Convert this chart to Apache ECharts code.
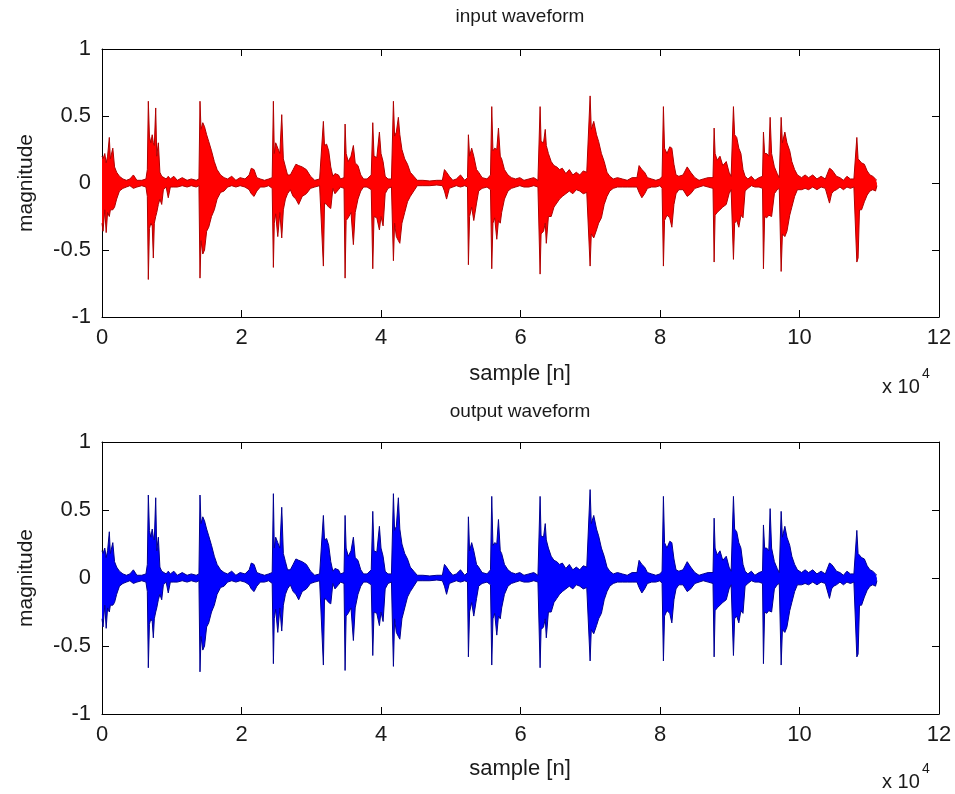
<!DOCTYPE html>
<html><head><meta charset="utf-8">
<script src="https://cdn.jsdelivr.net/npm/echarts@6/dist/echarts.min.js"></script>
<style>html,body{margin:0;padding:0;background:#fff}#c{width:955px;height:794px}</style>
</head><body><div id="c"></div>
<script>
// sample positions (samples) of the envelope
const sampleX = [
0,150,400,600,800,1050,1200,1550,1800,2100,
2500,3000,3500,4000,4500,5000,5700,6300,6500,6640,
6800,7000,7200,7360,7500,7700,7850,8080,8300,8560,
8800,9200,9500,9800,10300,10800,11500,12200,12800,13500,
13900,14050,14200,14450,14700,15000,15300,15700,16100,16500,
17000,17500,18000,18600,19200,19800,20500,21100,21400,21800,
22200,22700,23300,23900,24400,24570,24700,24900,25200,25500,
25770,26000,26300,26600,27000,27400,27800,28200,28700,29300,
29900,30500,31200,31740,31900,32200,32500,32800,33100,33400,
33900,34200,34700,34850,35000,35300,35700,36040,36300,36700,
37100,37500,38000,38600,38820,39000,39400,39770,40000,40300,
40600,41000,41500,41780,41950,42200,42490,42700,43000,43400,
43800,44200,44700,45200,46000,47000,48000,48800,49100,49400,
49800,50300,50800,51400,52000,52400,52530,52700,53000,53300,
53700,54000,54500,55200,55700,55880,56050,56300,56600,56840,
57100,57300,57700,58200,58700,59300,59900,60500,61200,61900,
62500,62810,62950,63300,63550,63700,64000,64400,64800,65200,
65600,66000,66500,67000,67500,68000,68500,69000,69500,69980,
70150,70500,70900,71200,71600,72000,72400,72800,73300,73900,
74600,75300,76000,76700,77000,77400,77800,78200,78800,79400,
80000,80300,80490,80650,81000,81400,81700,82000,82300,82700,
83300,83900,84400,85000,85600,86200,86900,87600,87760,87900,
88200,88600,89000,89500,89900,90200,90530,90700,91000,91300,
91600,91900,92200,92600,93100,93600,94200,94700,94830,95000,
95300,95600,95790,96000,96400,96800,97100,97370,97550,97900,
98200,98600,98900,99300,99700,100300,100800,101300,101900,102500,
103100,103700,104300,104600,104900,105300,105800,106300,106800,107300,
107800,108220,108400,108600,108900,109300,109700,110100,110500,110900,
111100];

// input waveform: upper and lower envelope
const inHi = [
0.20,0.18,0.22,0.15,0.20,0.34,0.18,0.26,0.12,0.08,
0.05,0.03,0.02,0.03,0.06,0.02,0.02,0.03,0.10,0.61,
0.35,0.30,0.36,0.30,0.28,0.56,0.20,0.30,0.08,0.05,
0.04,0.03,0.05,0.03,0.05,0.02,0.04,0.02,0.03,0.02,
0.03,0.61,0.40,0.45,0.42,0.36,0.31,0.24,0.16,0.10,
0.06,0.04,0.03,0.05,0.02,0.04,0.03,0.06,0.11,0.10,
0.04,0.03,0.02,0.03,0.04,0.61,0.22,0.30,0.26,0.22,
0.51,0.18,0.12,0.06,0.06,0.10,0.14,0.13,0.12,0.10,
0.05,0.02,0.03,0.46,0.28,0.29,0.24,0.12,0.05,0.07,
0.06,0.03,0.04,0.44,0.22,0.16,0.20,0.28,0.15,0.13,
0.06,0.03,0.03,0.06,0.45,0.20,0.19,0.38,0.22,0.16,
0.05,0.03,0.03,0.61,0.35,0.38,0.49,0.36,0.25,0.18,
0.14,0.08,0.05,0.02,0.02,0.015,0.02,0.02,0.10,0.08,
0.05,0.02,0.03,0.06,0.02,0.04,0.36,0.20,0.26,0.20,
0.10,0.08,0.04,0.03,0.06,0.57,0.24,0.26,0.25,0.41,
0.20,0.18,0.10,0.06,0.04,0.03,0.04,0.02,0.03,0.04,
0.02,0.57,0.31,0.30,0.40,0.28,0.22,0.16,0.13,0.12,
0.10,0.11,0.07,0.10,0.06,0.08,0.06,0.09,0.08,0.65,
0.40,0.46,0.36,0.31,0.22,0.16,0.08,0.05,0.03,0.04,
0.03,0.02,0.04,0.04,0.13,0.10,0.08,0.04,0.03,0.02,
0.03,0.05,0.57,0.26,0.22,0.27,0.26,0.14,0.06,0.05,
0.06,0.12,0.08,0.04,0.02,0.03,0.04,0.04,0.41,0.22,
0.17,0.20,0.13,0.16,0.08,0.05,0.57,0.36,0.34,0.26,
0.22,0.10,0.05,0.03,0.05,0.02,0.04,0.05,0.38,0.22,
0.22,0.20,0.49,0.22,0.12,0.07,0.04,0.49,0.30,0.38,
0.30,0.24,0.16,0.10,0.06,0.04,0.06,0.04,0.06,0.03,
0.05,0.03,0.11,0.10,0.08,0.05,0.04,0.02,0.05,0.03,
0.03,0.34,0.18,0.19,0.15,0.14,0.09,0.06,0.05,0.03,
0.02];
const inLo = [
-0.30,-0.36,-0.20,-0.37,-0.22,-0.25,-0.20,-0.20,-0.18,-0.12,
-0.06,-0.04,-0.03,-0.02,-0.04,-0.03,-0.02,-0.03,-0.10,-0.72,
-0.34,-0.30,-0.32,-0.56,-0.30,-0.25,-0.22,-0.16,-0.12,-0.16,
-0.05,-0.03,-0.11,-0.03,-0.03,-0.03,-0.02,-0.03,-0.02,-0.03,
-0.02,-0.71,-0.43,-0.53,-0.50,-0.36,-0.33,-0.25,-0.20,-0.12,
-0.07,-0.06,-0.03,-0.02,-0.03,-0.02,-0.03,-0.05,-0.08,-0.10,
-0.06,-0.03,-0.03,-0.02,-0.04,-0.63,-0.30,-0.23,-0.40,-0.22,
-0.41,-0.20,-0.12,-0.08,-0.05,-0.10,-0.12,-0.16,-0.10,-0.08,
-0.04,-0.03,-0.02,-0.62,-0.15,-0.16,-0.18,-0.19,-0.04,-0.08,
-0.05,-0.03,-0.04,-0.71,-0.28,-0.26,-0.22,-0.46,-0.22,-0.12,
-0.06,-0.03,-0.03,-0.05,-0.64,-0.25,-0.26,-0.35,-0.25,-0.32,
-0.08,-0.04,-0.03,-0.58,-0.30,-0.40,-0.43,-0.45,-0.30,-0.22,
-0.14,-0.10,-0.06,-0.02,-0.02,-0.02,-0.015,-0.02,-0.06,-0.12,
-0.04,-0.03,-0.02,-0.03,-0.02,-0.03,-0.61,-0.25,-0.18,-0.28,
-0.15,-0.06,-0.04,-0.03,-0.05,-0.64,-0.30,-0.26,-0.42,-0.28,
-0.30,-0.22,-0.12,-0.06,-0.04,-0.03,-0.02,-0.03,-0.03,-0.02,
-0.03,-0.68,-0.38,-0.36,-0.30,-0.45,-0.25,-0.25,-0.18,-0.15,
-0.12,-0.10,-0.08,-0.06,-0.08,-0.05,-0.06,-0.08,-0.07,-0.62,
-0.38,-0.41,-0.35,-0.30,-0.26,-0.16,-0.10,-0.06,-0.04,-0.03,
-0.03,-0.03,-0.03,-0.03,-0.07,-0.11,-0.08,-0.04,-0.03,-0.03,
-0.02,-0.04,-0.62,-0.28,-0.24,-0.26,-0.33,-0.16,-0.08,-0.05,
-0.05,-0.10,-0.08,-0.04,-0.03,-0.02,-0.03,-0.04,-0.59,-0.24,
-0.22,-0.20,-0.18,-0.16,-0.08,-0.05,-0.57,-0.30,-0.28,-0.33,
-0.24,-0.26,-0.06,-0.04,-0.02,-0.03,-0.03,-0.04,-0.64,-0.25,
-0.26,-0.24,-0.25,-0.25,-0.08,-0.05,-0.04,-0.66,-0.38,-0.40,
-0.36,-0.24,-0.18,-0.10,-0.05,-0.05,-0.04,-0.05,-0.03,-0.05,
-0.03,-0.04,-0.15,-0.08,-0.06,-0.05,-0.03,-0.05,-0.03,-0.04,
-0.03,-0.59,-0.56,-0.20,-0.20,-0.14,-0.09,-0.06,-0.05,-0.06,
-0.02];

// output waveform: upper and lower envelope
const outHi = [
0.20,0.18,0.22,0.15,0.20,0.34,0.18,0.26,0.12,0.08,
0.05,0.03,0.02,0.03,0.06,0.02,0.02,0.03,0.10,0.61,
0.35,0.30,0.36,0.30,0.28,0.59,0.20,0.30,0.08,0.05,
0.04,0.03,0.05,0.03,0.05,0.02,0.04,0.02,0.03,0.02,
0.03,0.61,0.40,0.45,0.42,0.36,0.31,0.24,0.16,0.10,
0.06,0.04,0.03,0.05,0.02,0.04,0.03,0.06,0.11,0.10,
0.04,0.03,0.02,0.03,0.04,0.62,0.22,0.30,0.26,0.22,
0.52,0.18,0.12,0.06,0.06,0.10,0.14,0.13,0.12,0.10,
0.05,0.02,0.03,0.46,0.28,0.29,0.24,0.12,0.05,0.07,
0.06,0.03,0.04,0.46,0.22,0.16,0.20,0.30,0.15,0.13,
0.06,0.03,0.03,0.06,0.49,0.20,0.19,0.38,0.22,0.16,
0.05,0.03,0.03,0.62,0.35,0.38,0.59,0.36,0.25,0.18,
0.14,0.08,0.05,0.02,0.02,0.015,0.02,0.02,0.10,0.08,
0.05,0.02,0.03,0.06,0.02,0.04,0.45,0.20,0.26,0.20,
0.10,0.08,0.04,0.03,0.06,0.60,0.24,0.26,0.25,0.43,
0.20,0.18,0.10,0.06,0.04,0.03,0.04,0.02,0.03,0.04,
0.02,0.60,0.31,0.30,0.40,0.28,0.22,0.16,0.13,0.12,
0.10,0.11,0.07,0.10,0.06,0.08,0.06,0.09,0.08,0.65,
0.40,0.46,0.36,0.31,0.22,0.16,0.08,0.05,0.03,0.04,
0.03,0.02,0.04,0.04,0.13,0.10,0.08,0.04,0.03,0.02,
0.03,0.05,0.60,0.26,0.22,0.27,0.26,0.14,0.06,0.05,
0.06,0.12,0.08,0.04,0.02,0.03,0.04,0.04,0.44,0.22,
0.17,0.20,0.13,0.16,0.08,0.05,0.60,0.36,0.34,0.26,
0.22,0.10,0.05,0.03,0.05,0.02,0.04,0.05,0.39,0.22,
0.22,0.20,0.51,0.22,0.12,0.07,0.04,0.49,0.30,0.38,
0.30,0.24,0.16,0.10,0.06,0.04,0.06,0.04,0.06,0.03,
0.05,0.03,0.11,0.10,0.08,0.05,0.04,0.02,0.05,0.03,
0.03,0.35,0.18,0.19,0.15,0.14,0.09,0.06,0.05,0.03,
0.02];
const outLo = [
-0.30,-0.36,-0.20,-0.37,-0.22,-0.25,-0.20,-0.20,-0.18,-0.12,
-0.06,-0.04,-0.03,-0.02,-0.04,-0.03,-0.02,-0.03,-0.10,-0.66,
-0.34,-0.30,-0.32,-0.44,-0.30,-0.25,-0.22,-0.16,-0.12,-0.16,
-0.05,-0.03,-0.11,-0.03,-0.03,-0.03,-0.02,-0.03,-0.02,-0.03,
-0.02,-0.69,-0.43,-0.53,-0.50,-0.36,-0.33,-0.25,-0.20,-0.12,
-0.07,-0.06,-0.03,-0.02,-0.03,-0.02,-0.03,-0.05,-0.08,-0.10,
-0.06,-0.03,-0.03,-0.02,-0.04,-0.63,-0.30,-0.23,-0.40,-0.22,
-0.39,-0.20,-0.12,-0.08,-0.05,-0.10,-0.12,-0.16,-0.10,-0.08,
-0.04,-0.03,-0.02,-0.64,-0.15,-0.16,-0.18,-0.19,-0.04,-0.08,
-0.05,-0.03,-0.04,-0.68,-0.28,-0.26,-0.22,-0.46,-0.22,-0.12,
-0.06,-0.03,-0.03,-0.05,-0.57,-0.25,-0.26,-0.35,-0.25,-0.32,
-0.08,-0.04,-0.03,-0.65,-0.30,-0.40,-0.43,-0.45,-0.30,-0.22,
-0.14,-0.10,-0.06,-0.02,-0.02,-0.02,-0.015,-0.02,-0.06,-0.12,
-0.04,-0.03,-0.02,-0.03,-0.02,-0.03,-0.58,-0.25,-0.18,-0.28,
-0.15,-0.06,-0.04,-0.03,-0.05,-0.64,-0.30,-0.26,-0.42,-0.28,
-0.30,-0.22,-0.12,-0.06,-0.04,-0.03,-0.02,-0.03,-0.03,-0.02,
-0.03,-0.66,-0.38,-0.36,-0.30,-0.44,-0.25,-0.25,-0.18,-0.15,
-0.12,-0.10,-0.08,-0.06,-0.08,-0.05,-0.06,-0.08,-0.07,-0.61,
-0.38,-0.41,-0.35,-0.30,-0.26,-0.16,-0.10,-0.06,-0.04,-0.03,
-0.03,-0.03,-0.03,-0.03,-0.07,-0.11,-0.08,-0.04,-0.03,-0.03,
-0.02,-0.04,-0.61,-0.28,-0.24,-0.26,-0.33,-0.16,-0.08,-0.05,
-0.05,-0.10,-0.08,-0.04,-0.03,-0.02,-0.03,-0.04,-0.58,-0.24,
-0.22,-0.20,-0.18,-0.16,-0.08,-0.05,-0.57,-0.30,-0.28,-0.33,
-0.24,-0.26,-0.06,-0.04,-0.02,-0.03,-0.03,-0.04,-0.63,-0.25,
-0.26,-0.24,-0.25,-0.25,-0.08,-0.05,-0.04,-0.64,-0.38,-0.40,
-0.36,-0.24,-0.18,-0.10,-0.05,-0.05,-0.04,-0.05,-0.03,-0.05,
-0.03,-0.04,-0.15,-0.08,-0.06,-0.05,-0.03,-0.05,-0.03,-0.04,
-0.03,-0.58,-0.56,-0.20,-0.20,-0.14,-0.09,-0.06,-0.05,-0.06,
-0.02];

const xMin = 0, xMax = 120000, xStep = 20000;   // tick labels 0..12 (x 10^4)
const yMin = -1, yMax = 1, yStep = 0.5;
const titles = ['input waveform', 'output waveform'];
const xLabel = 'sample [n]';
const yLabel = 'magnitude';

const FONT = "'Liberation Sans', Arial, sans-serif";
const zip = (xs, ys) => xs.map((x, i) => [x, ys[i]]);

const gridBoxes = [
  {left: 102, top: 49, width: 837, height: 268},
  {left: 102, top: 442, width: 837, height: 272}
];

function axesX(gi) {
  const common = {gridIndex: gi, type: 'value', min: xMin, max: xMax, interval: xStep,
    splitLine: {show: false},
    axisLine: {onZero: false, lineStyle: {color: '#000', width: 1}},
    axisTick: {inside: true, length: 7, lineStyle: {color: '#000'}}};
  return [
    Object.assign({}, common, {position: 'bottom',
      axisLabel: {formatter: v => String(v / 10000), fontSize: 22, color: '#1a1a1a', fontFamily: FONT, margin: 10, showMinLabel: true, showMaxLabel: true}}),
    Object.assign({}, common, {position: 'top', axisLabel: {show: false}})
  ];
}
function axesY(gi) {
  const common = {gridIndex: gi, type: 'value', min: yMin, max: yMax, interval: yStep,
    splitLine: {show: false},
    axisLine: {onZero: false, lineStyle: {color: '#000', width: 1}},
    axisTick: {inside: true, length: 7, lineStyle: {color: '#000'}}};
  return [
    Object.assign({}, common, {position: 'left',
      axisLabel: {formatter: v => String(v), fontSize: 22, color: '#1a1a1a', fontFamily: FONT, margin: 11, showMinLabel: true, showMaxLabel: true}}),
    Object.assign({}, common, {position: 'right', axisLabel: {show: false}})
  ];
}

function wave(gi, ys, fill, edge) {
  return {
    type: 'line', xAxisIndex: gi * 2, yAxisIndex: gi * 2,
    data: zip(sampleX, ys), showSymbol: false, symbol: 'none', silent: true,
    lineStyle: {color: edge, width: 1}, areaStyle: {color: fill, opacity: 1, origin: 'auto'},
    animation: false, z: 2
  };
}

function texts(gi, dy) {
  const t = {fill: '#1a1a1a', fontFamily: FONT};
  return [
    {type: 'text', x: 520, y: 17 + dy, style: Object.assign({text: titles[gi], fontSize: 19, align: 'center', verticalAlign: 'middle'}, t)},
    {type: 'text', x: 520, y: 374 + dy, style: Object.assign({text: xLabel, fontSize: 22, align: 'center', verticalAlign: 'middle'}, t)},
    {type: 'text', x: 26, y: 183 + dy, rotation: Math.PI / 2, style: Object.assign({text: yLabel, fontSize: 21, align: 'center', verticalAlign: 'middle'}, t)},
    {type: 'text', x: 882, y: 387 + dy, style: Object.assign({text: 'x 10', fontSize: 20, align: 'left', verticalAlign: 'middle'}, t)},
    {type: 'text', x: 922, y: 374 + dy, style: Object.assign({text: '4', fontSize: 14, align: 'left', verticalAlign: 'middle'}, t)}
  ];
}

const chart = echarts.init(document.getElementById('c'), null, {renderer: 'canvas'});
chart.setOption({
  animation: false,
  backgroundColor: '#fff',
  grid: gridBoxes,
  xAxis: axesX(0).concat(axesX(1)),
  yAxis: axesY(0).concat(axesY(1)),
  series: [
    wave(0, inHi, '#ff0000', '#b00000'),
    wave(0, inLo, '#ff0000', '#b00000'),
    wave(1, outHi, '#0000ff', '#000090'),
    wave(1, outLo, '#0000ff', '#000090')
  ],
  graphic: texts(0, 0).concat(texts(1, 395))
});
</script></body></html>
